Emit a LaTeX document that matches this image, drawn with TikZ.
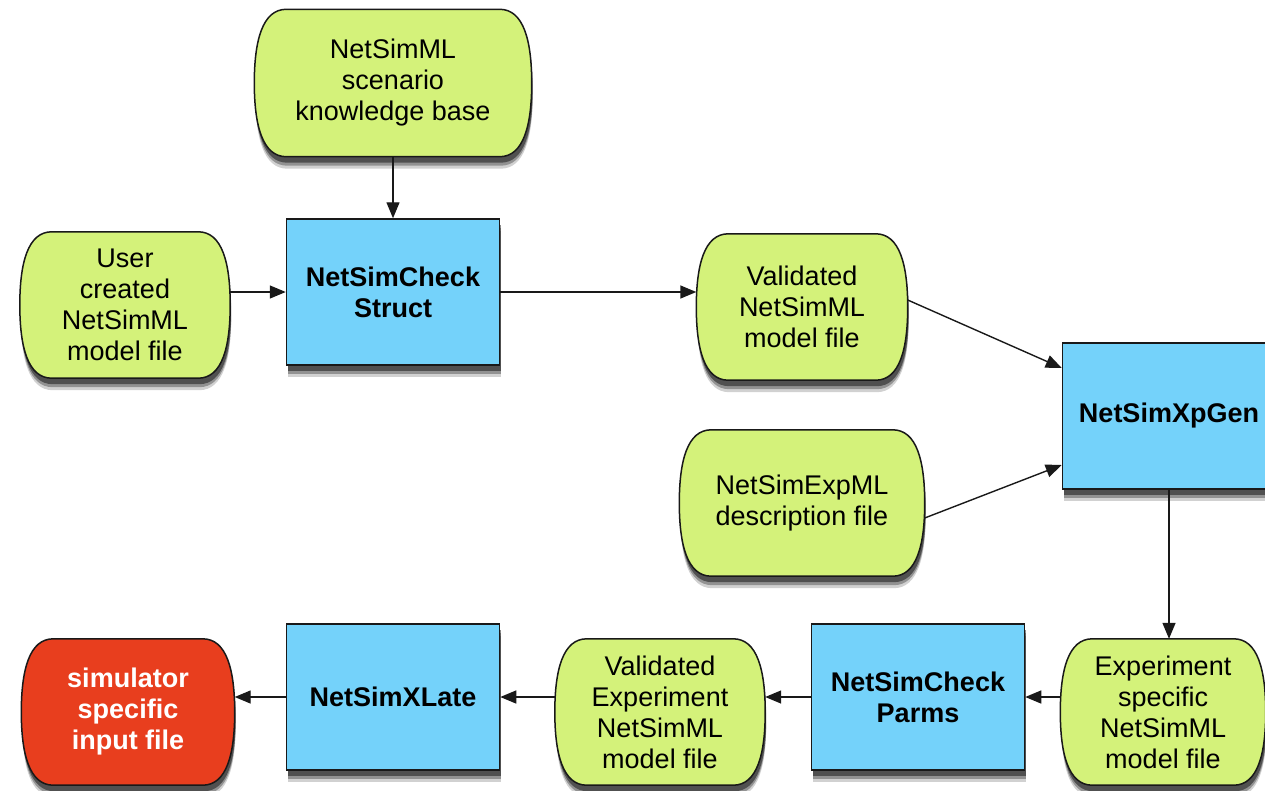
\documentclass[tikz,border=0pt]{standalone}
\usepackage{fontspec}
\setmainfont{Liberation Sans}
\usetikzlibrary{arrows.meta,calc,shadows,backgrounds}
\definecolor{lime}{RGB}{212,242,122}
\definecolor{sky}{RGB}{116,210,250}
\definecolor{simred}{RGB}{232,62,30}
\definecolor{edge}{RGB}{25,25,25}
\tikzset{
  base/.style={font=\fontsize{27}{31}\selectfont, align=center, inner sep=0pt},
  doc/.style={base, minimum width=#1, minimum height=146},
  shade/.style={
    drop shadow={shadow xshift=1pt, shadow yshift=-12pt, opacity=0.18, fill=black},
    drop shadow={shadow xshift=1pt, shadow yshift=-9pt, opacity=0.3, fill=black},
    drop shadow={shadow xshift=1pt, shadow yshift=-6pt, opacity=0.45, fill=black}},
  proc/.style={base, font=\fontsize{27}{31}\selectfont\bfseries, draw=edge, line width=1.5pt,
    fill=sky, minimum width=213, minimum height=146, shade},
  outline/.style={draw=edge, line width=1.5pt, shade},
  flow/.style={-{Triangle[length=16pt,width=13pt]}, line width=1.4pt, draw=edge},
}
\begin{document}
\begin{tikzpicture}[x=1pt, y=-1pt]
\useasboundingbox (0,0) rectangle (1265,790);
\clip (0,0) rectangle (1265,790);

\node[doc=277, minimum height=147] (kb) at (393,83) {NetSimML\\scenario\\knowledge base};
\node[doc=210] (user) at (125,305) {User\\created\\NetSimML\\model file};
\node[proc] (cs) at (393,292) {NetSimCheck\\Struct};
\node[doc=211] (val) at (802,307) {Validated\\NetSimML\\model file};
\node[proc] (xp) at (1169,416) {NetSimXpGen};
\node[doc=245] (expml) at (802,503) {NetSimExpML\\description file};
\node[doc=205] (exp) at (1163,712) {Experiment\\specific\\NetSimML\\model file};
\node[proc] (cp) at (918,697) {NetSimCheck\\Parms};
\node[doc=210] (ve) at (660,712) {Validated\\Experiment\\NetSimML\\model file};
\node[proc] (xl) at (393,697) {NetSimXLate};
\node[doc=213, text=white, font=\fontsize{27}{31}\selectfont\bfseries] (sim) at (128,712) {simulator\\specific\\input file};

\begin{scope}[on background layer]
\foreach \n/\c in {kb/lime,user/lime,val/lime,expml/lime,exp/lime,ve/lime,sim/simred}{
  \path[outline, fill=\c]
    (\n.west) .. controls +(0,-42) and +(-24,0) .. ($(\n.north west)+(32,0)$)
    -- ($(\n.north east)+(-32,0)$)
    .. controls +(24,0) and +(0,-42) .. (\n.east)
    .. controls +(0,42) and +(24,0) .. ($(\n.south east)+(-32,0)$)
    -- ($(\n.south west)+(32,0)$)
    .. controls +(-24,0) and +(0,42) .. (\n.west) -- cycle;
}
\end{scope}

\draw[flow] (kb.south) -- (cs.north);
\draw[flow] (user.east |- cs.west) -- (cs.west);
\draw[flow] (cs.east) -- (cs.east -| val.west);
\draw[flow] ($(val.east)+(0,-7)$) -- ($(xp.west)+(0,-48)$);
\draw[flow] ($(expml.east)+(0,15)$) -- ($(xp.west)+(0,49)$);
\draw[flow] (xp.south) -- (xp.south |- exp.north);
\draw[flow] (exp.west |- cp.east) -- (cp.east);
\draw[flow] (cp.west) -- (cp.west -| ve.east);
\draw[flow] (ve.west |- xl.east) -- (xl.east);
\draw[flow] (xl.west) -- (xl.west -| sim.east);
\end{tikzpicture}
\end{document}
